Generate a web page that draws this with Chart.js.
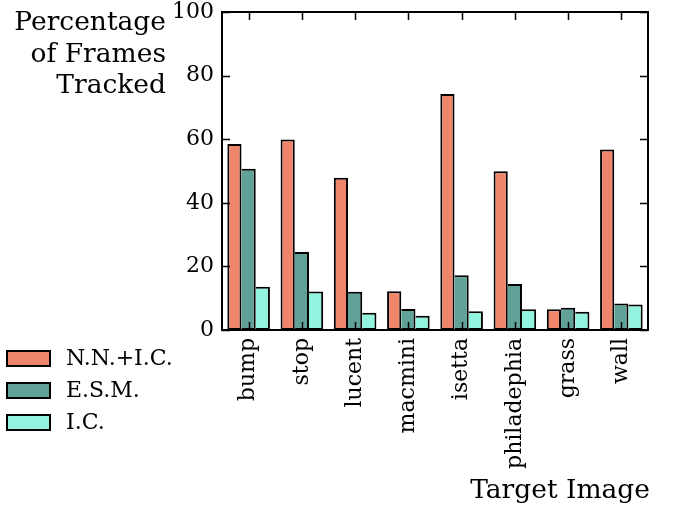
<!DOCTYPE html>
<html>
<head>
<meta charset="utf-8">
<script src="https://cdn.jsdelivr.net/npm/chart.js@4/dist/chart.umd.min.js"></script>
<style>
  html, body { margin: 0; padding: 0; background: #fff; }
  #wrap { width: 675px; height: 510px; position: relative; }
</style>
</head>
<body>
<div id="wrap"><canvas id="c" width="675" height="510"></canvas></div>
<script>
// Target images and per-method tracking results (percent of frames)
const categories = ['bump', 'stop', 'lucent', 'macmini', 'isetta', 'philadephia', 'grass', 'wall'];
const nnIc = [58.5, 59.9, 47.9, 12.2, 74.2, 49.9, 6.5, 56.8];
const esm  = [50.7, 24.5, 12.0, 6.6, 17.2, 14.5, 7.0, 8.3];
const ic   = [13.6, 12.1, 5.4, 4.5, 5.9, 6.5, 5.7, 8.0];
const seriesNames = ['N.N.+I.C.', 'E.S.M.', 'I.C.'];
const yTicks = [0, 20, 40, 60, 80, 100];
const yTitleLines = ['Percentage', 'of Frames', 'Tracked'];
const xTitle = 'Target Image';

const colors = ['#ef866b', '#60a198', '#92f3df'];
const FONT = '"DejaVu Serif", serif';

// Frame, inward ticks, axis titles and the legend
const decorations = {
  id: 'decorations',
  afterDatasetsDraw(chart) {
    const { ctx, chartArea: a, scales } = chart;
    const x = scales.x, y = scales.y;
    ctx.save();
    ctx.strokeStyle = '#000';
    ctx.lineWidth = 2;
    ctx.strokeRect(a.left, a.top, a.right - a.left, a.bottom - a.top);
    ctx.lineWidth = 1.5;
    const tl = 8;
    ctx.beginPath();
    yTicks.forEach(v => {
      const py = Math.round(y.getPixelForValue(v)) + 0.5;
      ctx.moveTo(a.left, py); ctx.lineTo(a.left + tl, py);
      ctx.moveTo(a.right, py); ctx.lineTo(a.right - tl, py);
    });
    categories.forEach((c, i) => {
      const px = Math.round(x.getPixelForValue(i)) + 0.5;
      ctx.moveTo(px, a.top); ctx.lineTo(px, a.top + tl);
      ctx.moveTo(px, a.bottom); ctx.lineTo(px, a.bottom - tl);
    });
    ctx.stroke();

    // y title, three right-aligned lines
    ctx.fillStyle = '#000';
    ctx.font = '26.5px ' + FONT;
    ctx.textAlign = 'right';
    ctx.textBaseline = 'alphabetic';
    yTitleLines.forEach((t, i) => ctx.fillText(t, 166, 30 + i * 31.5));

    // x title
    ctx.font = '26.5px ' + FONT;
    ctx.textAlign = 'right';
    ctx.fillText(xTitle, 650, 498);

    // legend
    ctx.font = '22px ' + FONT;
    ctx.textAlign = 'left';
    ctx.textBaseline = 'middle';
    chart.data.datasets.forEach((ds, i) => {
      const cy = 358.5 + i * 32;
      ctx.fillStyle = ds.backgroundColor;
      ctx.fillRect(7, cy - 7.5, 43, 15);
      ctx.lineWidth = 2;
      ctx.strokeStyle = '#000';
      ctx.strokeRect(7, cy - 7.5, 43, 15);
      ctx.fillStyle = '#000';
      ctx.fillText(ds.label, 66, cy + 1);
    });
    ctx.restore();
  }
};

new Chart(document.getElementById('c'), {
  type: 'bar',
  data: {
    labels: categories,
    datasets: [nnIc, esm, ic].map((d, i) => ({
      label: seriesNames[i],
      data: d,
      backgroundColor: colors[i],
      borderColor: '#000',
      borderWidth: 2,
      // neighbouring bars share one edge line
      borderSkipped: i === 0 ? false : 'left',
      barPercentage: 1.0,
      categoryPercentage: 0.8
    }))
  },
  options: {
    responsive: false,
    animation: false,
    devicePixelRatio: 1,
    layout: { padding: { left: 0, top: 12, right: 27, bottom: 0 } },
    plugins: { legend: { display: false }, tooltip: { enabled: false } },
    scales: {
      x: {
        grid: { display: false, drawTicks: false },
        border: { display: false },
        ticks: {
          color: '#000', font: { family: FONT, size: 22 },
          minRotation: 90, maxRotation: 90, padding: 8, autoSkip: false
        },
        afterFit(s) { s.height = 180; s.paddingLeft = 0; s.paddingRight = 0; }
      },
      y: {
        min: 0, max: 100,
        grid: { display: false, drawTicks: false },
        border: { display: false },
        afterBuildTicks(s) { s.ticks = yTicks.map(v => ({ value: v })); },
        ticks: { color: '#000', font: { family: FONT, size: 22 }, padding: 8 },
        afterFit(s) { s.width = 222; s.paddingTop = 0; s.paddingBottom = 0; }
      }
    }
  },
  plugins: [decorations]
});
</script>
</body>
</html>
